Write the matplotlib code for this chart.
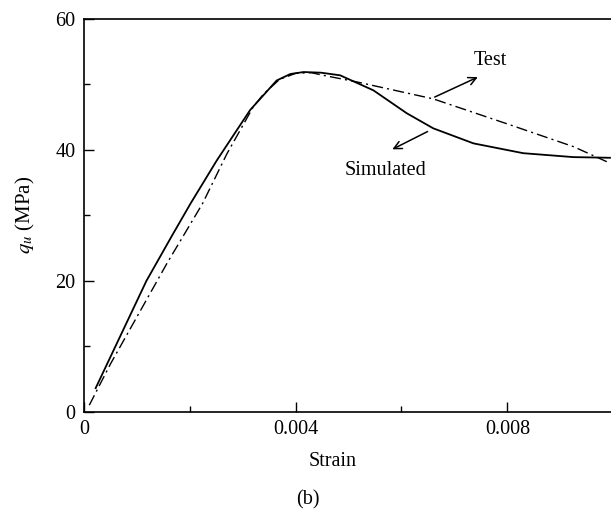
import matplotlib
matplotlib.use("Agg")
import matplotlib.pyplot as plt
from matplotlib.ticker import MultipleLocator

plt.rcParams['font.family'] = ['Liberation Serif', 'DejaVu Serif']
plt.rcParams['mathtext.fontset'] = 'stix'

# values
sim_strain = [0.00022, 0.00070, 0.00118, 0.00167, 0.00202, 0.00251, 0.00314,
              0.00364, 0.00390, 0.00415, 0.00448, 0.00484, 0.00547, 0.00610,
              0.00660, 0.00736, 0.00830, 0.00925, 0.00994]
sim_q = [3.6, 11.8, 20.0, 27.0, 31.9, 38.4, 46.1,
         50.6, 51.6, 51.9, 51.8, 51.4, 49.1, 45.6,
         43.3, 41.0, 39.5, 38.9, 38.8]

test_strain = [0.00010, 0.00050, 0.00107, 0.00157, 0.00224, 0.00270, 0.00320,
               0.00340, 0.00370, 0.00400, 0.00430, 0.00452, 0.00515, 0.00660,
               0.00799, 0.00925, 0.00988]
test_q = [1.0, 7.3, 15.5, 22.7, 31.8, 39.4, 46.6,
          48.6, 50.8, 51.7, 51.8, 51.4, 50.4, 47.8,
          44.0, 40.5, 38.2]

fig = plt.figure(figsize=(6.11, 5.14), dpi=100)
ax = fig.add_axes([0.1375, 0.199, 0.866, 0.764])

ax.plot(sim_strain, sim_q, color='black', lw=1.3)
ax.plot(test_strain, test_q, color='black', lw=1.0, linestyle=(0, (8, 3, 1.5, 3)))

ax.set_xlim(0, 0.01)
ax.set_ylim(0, 60)
ax.xaxis.set_minor_locator(MultipleLocator(0.002))
ax.yaxis.set_major_locator(MultipleLocator(20))
ax.yaxis.set_minor_locator(MultipleLocator(10))
ax.set_xticks([0, 0.004, 0.008])
ax.set_xticklabels(['0', '0.004', '0.008'])
ax.tick_params(which='major', direction='in', length=7, width=1, labelsize=14.5, pad=6)
ax.tick_params(which='minor', direction='in', length=4, width=1)
ax.spines['right'].set_visible(False)
for s in ['left', 'top', 'bottom']:
    ax.spines[s].set_linewidth(1.2)

ax.set_xlabel('Strain', fontsize=14.5)
ax.xaxis.set_label_coords(0.469, -0.102)
ax.set_ylabel('$q_u$ (MPa)', fontsize=15)
ax.yaxis.set_label_coords(-0.088, 0.5)

ax.annotate('', xy=(0.00749, 51.3), xytext=(0.00658, 47.9),
            arrowprops=dict(arrowstyle='->', color='black', lw=1.1, mutation_scale=14))
ax.text(0.00768, 53.7, 'Test', fontsize=14.5, ha='center', va='center')
ax.annotate('', xy=(0.00578, 39.9), xytext=(0.00654, 43.0),
            arrowprops=dict(arrowstyle='->', color='black', lw=1.1, mutation_scale=14))
ax.text(0.00569, 36.9, 'Simulated', fontsize=14.5, ha='center', va='center')

fig.text(308 / 611, 1 - 500 / 514, '(b)', fontsize=14.5, ha='center', va='center')

fig.savefig('out.png', dpi=100)
